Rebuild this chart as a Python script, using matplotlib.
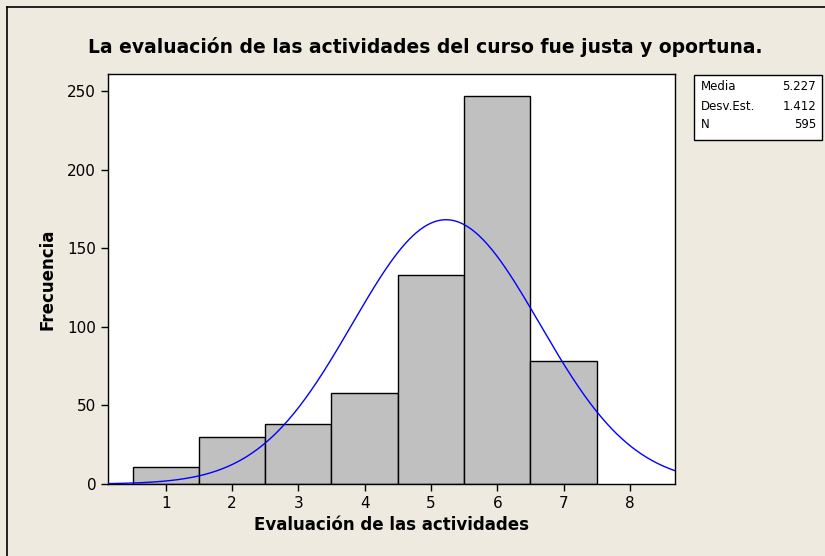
import numpy as np
import matplotlib
matplotlib.use("Agg")
import matplotlib.pyplot as plt
from matplotlib.lines import Line2D

categories = [1, 2, 3, 4, 5, 6, 7]
counts = [11, 30, 38, 58, 133, 247, 78]
stat_labels = ["Media", "Desv.Est.", "N"]
stat_values = ["5.227", "1.412", "595"]
media = 5.227
desv = 1.412
n_total = 595
xticks = [1, 2, 3, 4, 5, 6, 7, 8]
yticks = [0, 50, 100, 150, 200, 250]

bg = "#EEEAE0"
fig = plt.figure(figsize=(8.25, 5.56), dpi=100, facecolor=bg)
ax = fig.add_axes([108/825, 1-484/556, (675-108)/825, (484-74)/556])
ax.set_facecolor("white")

ax.bar(categories, counts, width=1.0, color="#C0C0C0", edgecolor="black", linewidth=1.0, zorder=2)

xlim = (0.13, 8.68)
xs = np.linspace(xlim[0], xlim[1], 400)
ys = n_total * 1.0 / (desv * np.sqrt(2*np.pi)) * np.exp(-0.5*((xs-media)/desv)**2)
ax.plot(xs, ys, color="#0000FF", linewidth=1.0, zorder=3)

ax.set_xlim(*xlim)
ax.set_ylim(0, 260.8)
ax.set_xticks(xticks)
ax.set_yticks(yticks)
ax.tick_params(axis="both", direction="out", length=5, width=1, labelsize=11, colors="black")
for s in ax.spines.values():
    s.set_linewidth(1.0)
    s.set_color("black")

ax.set_xlabel("Evaluación de las actividades", fontsize=12, fontweight="bold", labelpad=4)
ax.set_ylabel("Frecuencia", fontsize=12, fontweight="bold", labelpad=8)
fig.text(425/825, 1-47/556, "La evaluación de las actividades del curso fue justa y oportuna.",
         ha="center", va="center", fontsize=13.5, fontweight="bold")

# stats box
bx0, bx1, by0, by1 = 694/825, 822/825, 1-140/556, 1-75/556
fig.patches.append(plt.Rectangle((bx0, by0), bx1-bx0, by1-by0, transform=fig.transFigure,
                                 facecolor="white", edgecolor="black", linewidth=1.0))
for i, (lab, val) in enumerate(zip(stat_labels, stat_values)):
    yy = 1-(87 + i*19)/556
    fig.text(701/825, yy, lab, ha="left", va="center", fontsize=8.5)
    fig.text(816/825, yy, val, ha="right", va="center", fontsize=8.5)

# outer frame lines
fig.add_artist(Line2D([7/825, 7/825], [0, 1-7/556], transform=fig.transFigure, color="black", linewidth=1.2))
fig.add_artist(Line2D([7/825, 1], [1-7/556, 1-7/556], transform=fig.transFigure, color="black", linewidth=1.2))

fig.savefig("out.png", dpi=100, facecolor=bg)
